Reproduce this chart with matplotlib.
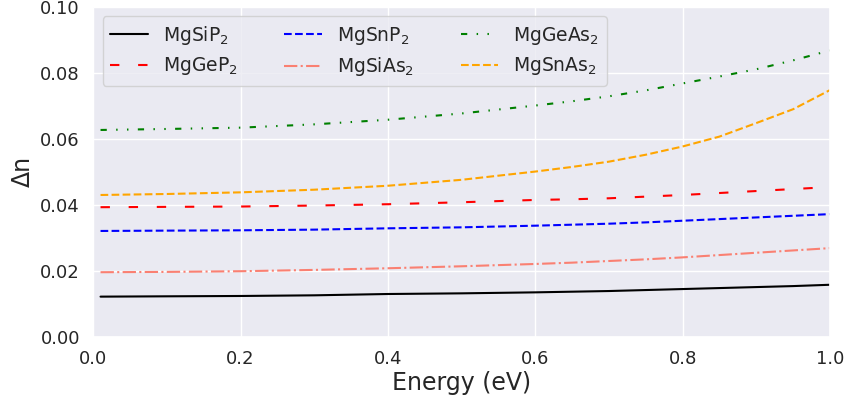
"""Birefringence (delta n) vs photon energy for Mg-II-IV-V2 compounds."""

import matplotlib
matplotlib.use("Agg")
import matplotlib.pyplot as plt
import seaborn as sns

# ─── Data ────────────────────────────────────────────────────────────
energy = [0.01, 0.1, 0.2, 0.3, 0.4, 0.5, 0.6, 0.65, 0.7, 0.75, 0.8, 0.85,
          0.9, 0.95, 1.0]

mgsip2 = [0.0122, 0.0123, 0.0124, 0.0126, 0.0130, 0.0132, 0.0135, 0.0137,
          0.0139, 0.0142, 0.0145, 0.0148, 0.0151, 0.0154, 0.0158]
mggep2 = [0.0393, 0.0394, 0.0395, 0.0398, 0.0402, 0.0408, 0.0415, 0.0417,
          0.0420, 0.0425, 0.0430, 0.0436, 0.0442, 0.0448, 0.0454]
mgsnp2 = [0.0321, 0.0322, 0.0323, 0.0325, 0.0329, 0.0332, 0.0337, 0.0340,
          0.0343, 0.0347, 0.0352, 0.0357, 0.0362, 0.0367, 0.0372]
mgsias2 = [0.0196, 0.0197, 0.0199, 0.0203, 0.0208, 0.0214, 0.0221, 0.0225,
           0.0230, 0.0235, 0.0241, 0.0248, 0.0255, 0.0262, 0.0269]
mggeas2 = [0.0627, 0.0630, 0.0634, 0.0644, 0.0658, 0.0677, 0.0701, 0.0714,
           0.0729, 0.0747, 0.0768, 0.0789, 0.0811, 0.0838, 0.0868]
mgsnas2 = [0.0430, 0.0433, 0.0438, 0.0446, 0.0458, 0.0476, 0.0501, 0.0515,
           0.0531, 0.0552, 0.0577, 0.0607, 0.0648, 0.0690, 0.0748]

sns.set_theme(style="darkgrid")
plt.rcParams["font.family"] = ["DejaVu Sans"]

fig = plt.figure(figsize=(8.47, 4.03), dpi=100)
ax = fig.add_axes([0.110, 0.164, 0.870, 0.819])

ax.plot(energy, mgsip2, color="black", linestyle="-", lw=1.5, label="MgSiP$_2$")
ax.plot(energy, mggep2, color="red", linestyle=(0, (4.5, 9)), lw=1.5, label="MgGeP$_2$")
ax.plot(energy, mgsnp2, color="blue", linestyle="--", lw=1.5, label="MgSnP$_2$")
ax.plot(energy, mgsias2, color="salmon", linestyle="-.", lw=1.5, label="MgSiAs$_2$")
ax.plot(energy, mggeas2, color="green", linestyle=(0, (3, 4.5, 0.7, 4.5, 0.7, 4.5)),
        lw=1.5, label="MgGeAs$_2$")
ax.plot(energy, mgsnas2, color="orange", linestyle="--", lw=1.5, label="MgSnAs$_2$")

ax.set_xlim(0, 1.0)
ax.set_ylim(0, 0.10)
ax.set_xticks([0.0, 0.2, 0.4, 0.6, 0.8, 1.0])
ax.set_yticks([0.00, 0.02, 0.04, 0.06, 0.08, 0.10])
ax.tick_params(labelsize=13)
ax.set_xlabel("Energy (eV)", fontsize=17, labelpad=2)
ax.set_ylabel("Δn", fontsize=17)

ax.legend(loc="upper left", ncol=3, fontsize=13.5, handlelength=2.0,
          columnspacing=2.5, labelspacing=0.45, borderaxespad=0.5)

fig.savefig("out.png", dpi=100)
